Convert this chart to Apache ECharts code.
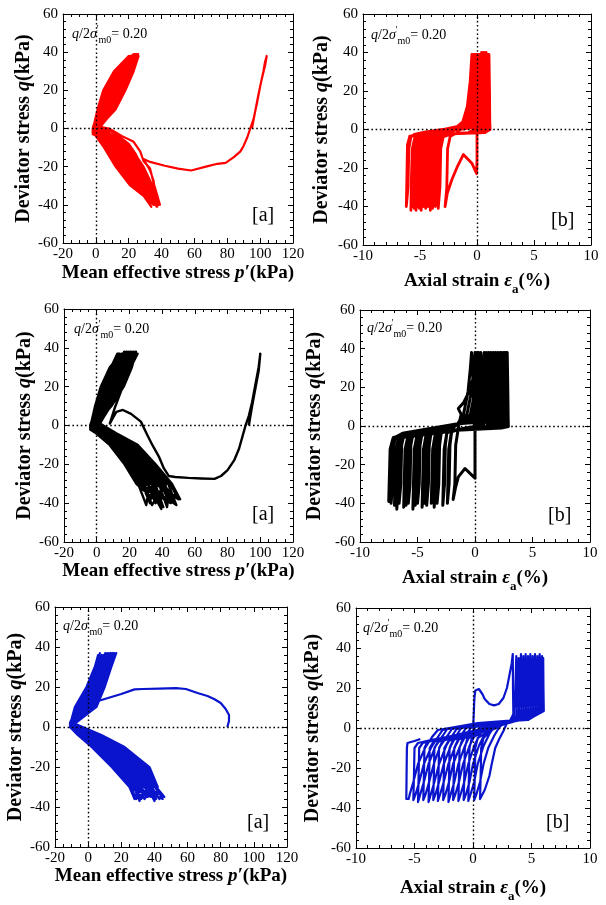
<!DOCTYPE html>
<html><head><meta charset="utf-8">
<script src="https://cdn.jsdelivr.net/npm/echarts@6/dist/echarts.min.js"></script>
<style>html,body{margin:0;padding:0;background:#fff}#c{width:606px;height:905px}</style>
</head><body><div id="c"></div>
<script>
// ---------------- DATA ----------------
// Panel 1: red, p'-q
const redPQInit = [[95,0],[97,9],[99,18],[101,26],[103,33],[104,38],[103,35],[102,30],[100,22],[98,13],[96,5],[94,0],[92,-5],[90,-9],[88,-12],[84,-15],[79,-18],[74,-18.5],[67,-20],[58,-22],[50,-21],[42,-19.5],[33,-17.5],[29,-16],[31,-19],[33,-22],[35,-27],[36,-32],[37,-36],[38,-40]];
const redPQCycles = [
 [[29.2,-30],[22.5,-20],[14.9,-10],[7.2,-4],[1,-1],[10.9,10],[16.7,20],[21.8,30],[25.3,39],[20,30],[14.6,20],[9.3,10],[2,1],[8,0],[16,-4],[23,-7],[27,-12],[29,-17],[33,-21],[35,-28],[37,-34],[39,-40]],
 [[27.8,-30],[20.5,-20],[13.1,-10],[5.9,-4],[0,-2],[4.3,10],[8.6,20],[14.6,30],[20.8,38],[17,30],[11.3,20],[6.5,10],[1,0],[6,0],[14,-4],[20,-8],[24,-13],[27,-18],[30,-22],[32,-28],[34,-34],[38.6,-39]],
 [[22.5,-30],[14,-20],[6.8,-10],[1.3,-4],[-2,-3],[7.6,10],[12.6,20],[18.2,30],[23,39],[12.2,30],[5.9,20],[2.1,10],[-1,0],[7.8,-4],[15.8,-10],[23.4,-20],[30,-30],[35.8,-40]],
 [[25.5,-30],[17.7,-20],[10.4,-10],[3.9,-4],[0,-1],[12,10],[18,20],[23,30],[26,38],[21.2,30],[16,20],[10.4,10],[3,1],[10.4,-4],[19.4,-10],[27.2,-20],[33,-30],[37.4,-41]],
 [[21,-30],[12,-20],[5,-10],[0,-4],[-2,-2],[3.2,10],[7.2,20],[13.4,30],[20,38],[11,30],[4.5,20],[1,10],[-2,-1],[6.5,-4],[14,-10],[21.5,-20],[28.5,-30],[35,-40]],
 [[24,-30],[15.8,-20],[8.6,-10],[2.6,-4],[-1,-1],[8.7,10],[14,20],[19.4,30],[23.8,39],[15.8,30],[9.9,20],[5.4,10],[0,0],[9.1,-4],[17.6,-10],[25.3,-20],[31.5,-30],[36.6,-39]],
 [[27,-30],[19.6,-20],[12.2,-10],[5.2,-4],[0,-2],[5.9,10],[10.6,20],[16.4,30],[21.9,38],[18.8,30],[13.3,20],[8.2,10],[1,0],[11,-4],[20.3,-10],[28.2,-20],[33.8,-30],[37.8,-40]],
 [[21.8,-30],[13,-20],[6,-10],[0.7,-4],[-2,-2],[2.7,10],[6.5,20],[12.8,30],[19.6,37],[11.6,30],[5.2,20],[1.6,10],[-2,0],[4.6,-4],[11.3,-10],[18.6,-20],[26.2,-30],[33.8,-41]],
 [[24.8,-30],[16.8,-20],[9.5,-10],[3.3,-4],[0,-1],[9.8,10],[15.3,20],[20.6,30],[24.5,39],[17.6,30],[12,20],[7,10],[1,1],[8.5,-4],[16.7,-10],[24.3,-20],[30.8,-30],[36.2,-40]],
 [[23.2,-30],[14.8,-20],[7.7,-10],[2,-4],[-1,-2],[4.9,10],[9.2,20],[15.2,30],[21.1,38],[14,30],[7.9,20],[3.8,10],[-1,0],[9.8,-4],[18.5,-10],[26.2,-20],[32.2,-30],[37,-41]],
 [[28.5,-30],[21.5,-20],[14,-10],[6.5,-4],[1,-1],[11.5,10],[17.3,20],[22.4,30],[25.7,39],[19.4,30],[14,20],[8.7,10],[2,0],[11.7,-4],[21.2,-10],[29,-20],[34.5,-30],[38.2,-40]],
 [[26.2,-30],[18.6,-20],[11.3,-10],[4.6,-4],[-1,-1],[7,10],[11.9,20],[17.6,30],[22.6,38],[13.4,30],[7.2,20],[3.2,10],[-2,-1],[3.3,-4],[9.5,-10],[16.8,-20],[24.8,-30],[33,-40]]
];
// Panel 2: red, axial strain - q
const redEInit = [[0,0],[0.02,10],[0.05,25],[0.08,38],[0.05,20],[0.02,5],[0,-5],[0,-15],[-0.03,-23],[-0.45,-17.5],[-1.2,-13],[-1.7,-19],[-2.2,-26],[-2.6,-33],[-2.8,-40]];
const redECycles = [
 [[-2.65,-30],[-2.58,-10],[-2.35,-3.5],[-1.8,-2],[-1.3,1],[-0.7,4],[-0.3,12],[-0.05,25],[0.1,39],[0.2,25],[0.25,8],[0.35,0],[-0.2,-1.6],[-2.2,-2.2],[-2.5,-2.8],[-3.05,-4],[-3.28,-10],[-3.35,-25],[-3.4,-41]],
 [[-3.25,-30],[-3.18,-10],[-2.95,-3.5],[-2.4,-2],[-2.0,-0.5],[-1.7,1],[-1.1,4],[-0.7,12],[-0.45,25],[-0.3,39],[-0.2,25],[-0.15,8],[-0.05,0],[-0.6,-1.6],[-2.2,-2.2],[-2.75,-2.8],[-3.3,-4],[-3.53,-10],[-3.6,-25],[-3.65,-40]],
 [[-3.5,-30],[-3.43,-10],[-3.2,-3.5],[-2.65,-2],[-2.0,-0.5],[-0.9,1],[-0.3,4],[0.1,12],[0.35,25],[0.5,39],[0.6,25],[0.65,8],[0.75,0],[0.2,-1.6],[-2.2,-2.2],[-3.0,-2.8],[-3.55,-4],[-3.78,-10],[-3.85,-25],[-3.9,-41]],
 [[-3.75,-30],[-3.68,-10],[-3.45,-3.5],[-2.9,-2],[-2.0,-0.5],[-1.5,1],[-0.9,4],[-0.5,12],[-0.25,25],[-0.1,39],[0,25],[0.05,8],[0.15,0],[-0.4,-1.6],[-2.2,-2.2],[-3.2,-2.8],[-3.75,-4],[-3.98,-10],[-4.05,-25],[-4.1,-42]],
 [[-3.95,-30],[-3.88,-10],[-3.65,-3.5],[-3.1,-2],[-2.0,-0.5],[-0.6,1],[0,4],[0.4,12],[0.65,25],[0.8,40],[0.9,25],[0.95,8],[1.05,0],[0.5,-1.6],[-2.2,-2.2],[-3.4,-2.8],[-3.95,-4],[-4.18,-10],[-4.25,-25],[-4.3,-40]],
 [[-4.15,-30],[-4.08,-10],[-3.85,-3.5],[-3.3,-2],[-2.0,-0.5],[-1.1,1],[-0.5,4],[-0.1,12],[0.15,25],[0.3,39],[0.4,25],[0.45,8],[0.55,0],[0,-1.6],[-2.2,-2.2],[-3.6,-2.8],[-4.15,-4],[-4.38,-10],[-4.45,-25],[-4.5,-41]],
 [[-4.35,-30],[-4.28,-10],[-4.05,-3.5],[-3.5,-2],[-2.0,-0.5],[-0.4,1],[0.2,4],[0.6,12],[0.85,25],[1.0,39],[1.05,25],[1.1,8],[1.12,0],[0.7,-1.6],[-2.2,-2.2],[-3.8,-2.8],[-4.35,-4],[-4.58,-10],[-4.65,-25],[-4.7,-40]],
 [[-4.55,-30],[-4.48,-10],[-4.25,-3.5],[-3.7,-2],[-2.1,-0.5],[-1.85,1],[-1.25,4],[-0.85,12],[-0.6,25],[-0.45,39],[-0.35,25],[-0.3,8],[-0.2,0],[-0.75,-1.6],[-2.2,-2.2],[-4.0,-2.8],[-4.55,-4],[-4.78,-10],[-4.85,-25],[-4.9,-42]],
 [[-4.75,-30],[-4.68,-10],[-4.45,-3.5],[-3.9,-2],[-2.0,-0.5],[-0.8,1],[-0.2,4],[0.2,12],[0.45,25],[0.6,40],[0.7,25],[0.75,8],[0.85,0],[0.3,-1.6],[-2.2,-2.2],[-4.15,-2.8],[-4.7,-4],[-4.93,-10],[-5.0,-25],[-5.05,-41]],
 [[-4.9,-30],[-4.83,-10],[-4.6,-3.5],[-4.05,-2],[-2.0,-0.5],[-1.2,1],[-0.6,4],[-0.2,12],[0.05,25],[0.2,39],[0.3,25],[0.35,8],[0.45,0],[-0.1,-1.6],[-2.2,-2.2],[-4.3,-2.8],[-4.85,-4],[-5.08,-10],[-5.15,-25],[-5.2,-40]],
 [[-5.05,-30],[-4.98,-10],[-4.75,-3.5],[-4.2,-2],[-2.0,-0.5],[-0.45,1],[0.15,4],[0.55,12],[0.8,25],[0.95,39],[1.05,25],[1.1,8],[1.15,0],[0.65,-1.6],[-2.2,-2.2],[-4.45,-2.8],[-5.0,-4],[-5.23,-10],[-5.3,-25],[-5.35,-42]],
 [[-5.2,-30],[-5.13,-10],[-4.9,-3.5],[-4.35,-2],[-2.0,-0.5],[-1.0,1],[-0.4,4],[0,12],[0.25,25],[0.4,40],[0.5,25],[0.55,8],[0.65,0],[0.1,-1.6],[-2.2,-2.2],[-4.6,-2.8],[-5.15,-4],[-5.38,-10],[-5.45,-25],[-5.5,-41]],
 [[-5.35,-30],[-5.28,-10],[-5.05,-3.5],[-4.5,-2],[-2.0,-0.5],[-1.6,1],[-1.0,4],[-0.6,12],[-0.35,25],[-0.2,39],[-0.1,25],[-0.05,8],[0.05,0],[-0.5,-1.6],[-2.2,-2.2],[-4.75,-2.8],[-5.3,-4],[-5.53,-10],[-5.6,-25],[-5.65,-40]],
 [[-5.5,-30],[-5.43,-10],[-5.2,-3.5],[-4.65,-2],[-2.0,-0.5],[-0.7,1],[-0.1,4],[0.3,12],[0.55,25],[0.7,39],[0.8,25],[0.85,8],[0.95,0],[0.4,-1.6],[-2.2,-2.2],[-4.9,-2.8],[-5.45,-4],[-5.68,-10],[-5.75,-25],[-5.8,-42]],
 [[-5.65,-30],[-5.58,-10],[-5.35,-3.5],[-4.8,-2],[-2.0,-0.5],[-1.4,1],[-0.8,4],[-0.4,12],[-0.15,25],[0,39],[0.1,25],[0.15,8],[0.25,0],[-0.3,-1.6],[-2.2,-2.2],[-5.0,-2.8],[-5.9,-3.5],[-6.1,-8],[-6.15,-25],[-6.2,-40]],
 [[-6.05,-30],[-5.98,-10],[-5.8,-4],[-5.5,-2.5],[-4.5,-1.2],[-3,0],[-1.8,1.5],[-0.5,4],[0.5,12],[0.9,26],[1.05,39],[1.1,20],[1.12,4],[1.1,0]]
];
// Panel 3: black, p'-q
const blackPQInit = [[93,0],[95,10],[97,19],[99,28],[100,37],[99,30],[97,21],[95,12],[93,5],[91,0],[89,-6],[87,-12],[84,-18],[80,-23],[76,-26],[72,-27.5],[64,-27.3],[56,-27],[48,-26.5],[44,-26],[41,-22],[38,-16],[34,-10],[31,-5],[27,2],[21,6],[16,8],[12,7],[10,4],[8,1],[11,9],[15,18],[19,26],[22,32],[25,37]];
const blackPQCycles = [
 [[20.2,30],[15.1,20],[8,10],[2,1],[12,-4],[25,-10],[36,-20],[46,-30],[51,-38],[36.8,-30],[28,-20],[17.8,-10],[6.8,-4],[-2,0],[4,10],[9.5,20],[14.8,30],[18,38]],
 [[14,30],[8.8,20],[3.5,10],[-3,-1],[8.1,-4],[19.6,-10],[30,-20],[39.1,-30],[44.1,-39],[26.5,-30],[19,-20],[9.7,-10],[1,-4],[-4,-1],[-0.5,10],[3.2,20],[8.7,30],[12.6,37]],
 [[9.4,30],[3.9,20],[0,10],[-4,0],[3.6,-4],[13.3,-10],[23,-20],[31,-30],[36,-40],[42.6,-30],[33,-20],[22.3,-10],[10,-4],[1,0],[6.5,10],[13,20],[18.1,30],[21,38]],
 [[16.8,30],[11.6,20],[5.5,10],[0,-1],[10.7,-4],[23.2,-10],[34,-20],[43.7,-30],[48.7,-41],[29.9,-30],[22,-20],[12.4,-10],[2.9,-4],[-3,-1],[1.5,10],[6,20],[11.4,30],[15,37]],
 [[8,30],[2.5,20],[-1,10],[-4,-1],[1.6,-4],[10.6,-10],[20,-20],[27.6,-30],[32.6,-40],[34.5,-30],[26,-20],[16,-10],[5.5,-4],[-1,0],[8.5,10],[15.8,20],[20.8,30],[23.4,38]],
 [[18.8,30],[13.7,20],[7,10],[1,0],[6.2,-4],[16.9,-10],[27,-20],[35.7,-30],[40.7,-42],[24.2,-30],[17,-20],[7.9,-10],[-0.4,-4],[-4,-2],[3,10],[8.1,20],[13.4,30],[16.8,38]],
 [[12,30],[6.7,20],[2,10],[-3,0],[9.4,-4],[21.4,-10],[32,-20],[41.4,-30],[46.4,-39],[39.1,-30],[30,-20],[19.6,-10],[8.1,-4],[0,-1],[0.5,10],[4.6,20],[10,30],[13.8,37]],
 [[15.4,30],[10.2,20],[4.5,10],[-1,1],[0.3,-4],[8.8,-10],[18,-20],[25.3,-30],[30.3,-41],[32.2,-30],[24,-20],[14.2,-10],[4.2,-4],[-2,-1],[7.5,10],[14.4,20],[19.5,30],[22.2,38]],
 [[10.7,30],[5.3,20],[1,10],[-4,0],[7.5,-4],[18.7,-10],[29,-20],[38,-30],[43,-42],[44.9,-30],[35,-20],[24.1,-10],[11.4,-4],[1,-1],[5,10],[10.9,20],[16.1,30],[19.2,38]],
 [[18.1,30],[13,20],[6.5,10],[0,0],[4.9,-4],[15.1,-10],[25,-20],[33.4,-30],[38.4,-39],[27.6,-30],[20,-20],[10.6,-10],[1.6,-4],[-3,-1],[2,10],[6.7,20],[12,30],[15.6,37]],
 [[13.4,30],[8.1,20],[3,10],[-2,0],[11.4,-4],[24.1,-10],[35,-20],[44.9,-30],[49.9,-38],[35.7,-30],[27,-20],[16.9,-10],[6.2,-4],[-1,0],[9,10],[16.5,20],[21.5,30],[24,38]],
 [[8.7,30],[3.2,20],[-0.5,10],[-4,-1],[2.3,-4],[11.5,-10],[21,-20],[28.8,-30],[33.8,-41],[41.4,-30],[32,-20],[21.4,-10],[9.4,-4],[0,0],[6,10],[12.3,20],[17.5,30],[20.4,38]],
 [[16.1,30],[10.9,20],[5,10],[-1,0],[8.8,-4],[20.5,-10],[31,-20],[40.3,-30],[45.3,-40],[25.3,-30],[18,-20],[8.8,-10],[0.3,-4],[-4,-1],[0,10],[3.9,20],[9.4,30],[13.2,37]],
 [[20.8,30],[15.8,20],[8.5,10],[1,0],[5.5,-4],[16,-10],[26,-20],[34.5,-30],[39.5,-43],[31,-30],[23,-20],[13.3,-10],[3.6,-4],[-3,-1],[3.5,10],[8.8,20],[14,30],[17.4,37]]
];
// Panel 4: black, axial strain - q
const blackEInit = [[0,0],[0.02,12],[0.04,25],[0.05,37],[0.03,20],[0,5],[0,-10],[0,-20],[0,-27],[-0.43,-24.5],[-0.87,-22],[-1.45,-26.3],[-1.7,-32],[-1.9,-38]];
const blackECycles = [
 [[-1.75,-30],[-1.68,-10],[-1.5,-3],[-1.4,1],[-1.2,6],[-1.45,9],[-1.0,12],[-0.5,18],[0,28],[0.2,38],[0.35,20],[0.4,5],[0.45,-0.3],[-0.3,-1],[-1.5,-2],[-2.05,-3],[-2.28,-12],[-2.4,-40]],
 [[-2.25,-30],[-2.18,-10],[-2.0,-1.5],[-1.5,1.2],[-1.0,6],[-0.6,18],[-0.4,30],[-0.3,38],[-0.15,20],[-0.1,5],[-0.05,-0.3],[-0.8,-1],[-1.8,-2.2],[-2.45,-3.5],[-2.68,-12],[-2.8,-41]],
 [[-2.65,-30],[-2.58,-10],[-2.4,-1.5],[-1.8,0.5],[-1.5,1.2],[-0.2,2.5],[0.3,6],[0.7,18],[0.9,30],[1.0,38],[1.15,20],[1.2,5],[1.25,-0.3],[0.5,-1],[-2,-2.3],[-2.3,-2.5],[-2.95,-3.7],[-3.18,-12],[-3.3,-40]],
 [[-3.15,-30],[-3.08,-10],[-2.9,-2],[-2.3,0],[-1.5,1.2],[-0.7,2.5],[-0.2,6],[0.2,18],[0.4,30],[0.5,38],[0.65,20],[0.7,5],[0.75,-0.3],[0,-1],[-2,-2.3],[-2.55,-2.6],[-3.2,-3.9],[-3.43,-12],[-3.55,-42]],
 [[-3.4,-30],[-3.33,-10],[-3.15,-2.3],[-2.55,-0.2],[-1.5,1.2],[0.6,2.5],[1.1,6],[1.5,18],[1.7,30],[1.8,38],[1.95,20],[2.0,5],[2.05,-0.3],[1.3,-1],[-2,-2.3],[-2.8,-2.7],[-3.45,-4],[-3.68,-12],[-3.8,-40]],
 [[-3.65,-30],[-3.58,-10],[-3.4,-2.6],[-2.8,-0.4],[-1.5,1.2],[1.1,2.5],[1.6,6],[2.0,18],[2.2,30],[2.3,38],[2.45,20],[2.5,5],[2.55,-0.3],[1.8,-1],[-2,-2.3],[-3.2,-3],[-3.85,-4.3],[-4.08,-12],[-4.2,-41]],
 [[-4.05,-30],[-3.98,-10],[-3.8,-2.9],[-3.2,-0.7],[-1.5,1.2],[-1.2,2.5],[-0.7,6],[-0.3,18],[-0.1,30],[0,38],[0.15,20],[0.2,5],[0.25,-0.3],[-0.5,-1],[-2,-2.3],[-3.4,-3],[-4.05,-4.5],[-4.28,-12],[-4.4,-40]],
 [[-4.25,-30],[-4.18,-10],[-4.0,-3.1],[-3.4,-0.9],[-1.5,1.2],[0.4,2.5],[0.9,6],[1.3,18],[1.5,30],[1.6,38],[1.75,20],[1.8,5],[1.85,-0.3],[1.1,-1],[-2,-2.3],[-3.6,-3.2],[-4.25,-4.6],[-4.48,-12],[-4.6,-42]],
 [[-4.45,-30],[-4.38,-10],[-4.2,-3.3],[-3.6,-1.1],[-1.5,1.2],[0.2,2.5],[0.7,6],[1.1,18],[1.3,30],[1.4,38],[1.55,20],[1.6,5],[1.65,-0.3],[0.9,-1],[-2,-2.3],[-4.0,-3.5],[-4.65,-4.9],[-4.88,-12],[-5.0,-40]],
 [[-4.85,-30],[-4.78,-10],[-4.6,-3.6],[-4.0,-1.5],[-1.5,1.2],[1.6,2.5],[2.1,6],[2.5,18],[2.7,30],[2.8,38],[2.85,20],[2.88,5],[2.9,-0.3],[2.3,-1],[-2,-2.3],[-4.2,-3.6],[-4.85,-5],[-5.08,-12],[-5.2,-41]],
 [[-5.05,-30],[-4.98,-10],[-4.8,-3.8],[-4.2,-1.7],[-1.5,1.2],[-0.9,2.5],[-0.4,6],[0,18],[0.2,30],[0.3,38],[0.45,20],[0.5,5],[0.55,-0.3],[-0.2,-1],[-2,-2.3],[-4.4,-3.7],[-5.05,-5.2],[-5.28,-12],[-5.4,-43]],
 [[-5.25,-30],[-5.18,-10],[-5.0,-4],[-4.4,-1.9],[-1.5,1.2],[1.3,2.5],[1.8,6],[2.2,18],[2.4,30],[2.5,38],[2.65,20],[2.7,5],[2.75,-0.3],[2.0,-1],[-2,-2.3],[-4.8,-4],[-5.45,-5.6],[-5.68,-12],[-5.8,-40]],
 [[-5.65,-30],[-5.58,-10],[-5.4,-4.3],[-4.8,-2.3],[-1.5,1.2],[-0.4,2.5],[0.1,6],[0.5,18],[0.7,30],[0.8,38],[0.95,20],[1.0,5],[1.05,-0.3],[0.3,-1],[-2,-2.3],[-5.0,-4.2],[-5.65,-5.7],[-5.88,-12],[-6.0,-41]],
 [[-5.85,-30],[-5.78,-10],[-5.6,-4.5],[-5.0,-2.5],[-1.5,1.2],[0.8,2.5],[1.3,6],[1.7,18],[1.9,30],[2.0,38],[2.15,20],[2.2,5],[2.25,-0.3],[1.5,-1],[-2,-2.3],[-5.2,-4.4],[-5.85,-5.8],[-6.08,-12],[-6.2,-42]],
 [[-6.05,-30],[-5.98,-10],[-5.8,-4.7],[-5.2,-2.7],[-1.5,1.2],[-0.2,2.5],[0.3,6],[0.7,18],[0.9,30],[1.0,38],[1.15,20],[1.2,5],[1.25,-0.3],[0.5,-1],[-2,-2.3],[-5.6,-4.7],[-6.25,-6.1],[-6.48,-12],[-6.6,-40]],
 [[-6.45,-30],[-6.38,-10],[-6.2,-5],[-5.6,-3.1],[-1.5,1.2],[1.4,2.5],[1.9,6],[2.3,18],[2.5,30],[2.6,38],[2.75,20],[2.8,5],[2.85,-0.3],[2.1,-1],[-2,-2.3],[-5.8,-4.8],[-6.45,-6.3],[-6.68,-12],[-6.8,-43]],
 [[-6.65,-30],[-6.58,-10],[-6.4,-5.2],[-5.8,-3.3],[-1.5,1.2],[1.0,2.5],[1.5,6],[1.9,18],[2.1,30],[2.2,38],[2.35,20],[2.4,5],[2.45,-0.3],[1.7,-1],[-2,-2.3],[-6.0,-5],[-6.65,-6.4],[-6.88,-12],[-7.0,-41]],
 [[-6.85,-30],[-6.78,-10],[-6.6,-5.4],[-6.0,-3.5],[-1.5,1.2],[0,2.5],[0.5,6],[0.9,18],[1.1,30],[1.2,38],[1.35,20],[1.4,5],[1.45,-0.3],[0.7,-1],[-2,-2.3],[-6.3,-5.3],[-6.95,-6.6],[-7.18,-12],[-7.3,-40]],
 [[-7.15,-30],[-7.08,-10],[-6.9,-5.7],[-6.3,-3.8],[-1.5,1.2],[1.6,2.5],[2.1,6],[2.5,18],[2.7,30],[2.75,38],[2.85,20],[2.88,5],[2.9,-0.3],[2.3,-1],[-2,-2.3],[-6.5,-5.4],[-7.15,-6.8],[-7.38,-12],[-7.5,-39]],
 [[-7.35,-30],[-7.28,-10],[-7.1,-5.9],[-6.5,-5]]
];
// Panel 5: blue, p'-q
const bluePQInit = [[84,0],[85,3],[85,6],[83,9],[80,12],[76,14],[72,15.5],[66,17],[59,19],[53,19.4],[43,19.2],[33,19],[28,18.8],[20,16.5],[12,14.5],[6,13],[8,20],[11,27],[13,32],[15,37]];
const bluePQCycles = [
 [[13,30],[8.9,20],[3.7,10],[-10,1],[7.3,-4],[21,-10],[35.8,-20],[41.1,-30],[46,-35],[34.8,-30],[27.4,-20],[13.6,-10],[2,-4],[-11,1],[-1.5,10],[4.5,20],[9,30],[11.5,37]],
 [[8,30],[3.4,20],[-2.8,10],[-11,0],[3.5,-4],[15.7,-10],[29.8,-20],[36.6,-30],[41,-36],[26.7,-30],[16.6,-20],[4.2,-10],[-4.8,-4],[-11,1],[-6.7,10],[0.1,20],[5,30],[7.1,37]],
 [[5,30],[0.1,20],[-6.7,10],[-11,2],[-1.8,-4],[8.4,-10],[21.4,-20],[30.3,-30],[34,-36],[39.3,-30],[33.4,-20],[18.9,-10],[5.8,-4],[-10,1],[2.4,10],[7.8,20],[12,30],[14.8,37]],
 [[11,30],[6.7,20],[1.1,10],[-10,0],[6.5,-4],[19.9,-10],[34.6,-20],[40.2,-30],[45,-36],[29.4,-30],[20.2,-20],[7.3,-10],[-2.5,-4],[-11,1],[-4.1,10],[2.3,20],[7,30],[9.3,36]],
 [[4,30],[-1,20],[-8,10],[-11,1],[-4,-4],[5.2,-10],[17.8,-20],[27.6,-30],[31,-37],[33,-30],[25,-20],[11.5,-10],[0.5,-4],[-10,2],[5,10],[10,20],[14,30],[17,37]],
 [[12,30],[7.8,20],[2.4,10],[-9,1],[1.3,-4],[12.6,-10],[26.2,-20],[33.9,-30],[38,-35],[24.9,-30],[14.2,-20],[2.1,-10],[-6.3,-4],[-11,0],[-2.8,10],[3.4,20],[8,30],[10.4,37]],
 [[7,30],[2.3,20],[-4.1,10],[-11,1],[5,-4],[17.8,-10],[32.2,-20],[38.4,-30],[43,-36],[36.6,-30],[29.8,-20],[15.7,-10],[3.5,-4],[-10,1],[-5.4,10],[1.2,20],[6,30],[8.2,36]],
 [[10,30],[5.6,20],[-0.2,10],[-10,2],[-5.5,-4],[3.1,-10],[15.4,-20],[25.8,-30],[29,-36],[31.2,-30],[22.6,-20],[9.4,-10],[-1,-4],[-11,1],[3.7,10],[8.9,20],[13,30],[15.9,37]],
 [[6,30],[1.2,20],[-5.4,10],[-11,0],[2.8,-4],[14.7,-10],[28.6,-20],[35.7,-30],[40,-37],[42,-30],[37,-20],[22,-10],[8,-4],[-9,2],[-0.2,10],[5.6,20],[10,30],[12.6,37]],
 [[9,30],[4.5,20],[-1.5,10],[-10,1],[-0.3,-4],[10.5,-10],[23.8,-20],[32.1,-30],[36,-35],[27.6,-30],[17.8,-20],[5.2,-10],[-4,-4],[-11,1],[1.1,10],[6.7,20],[11,30],[13.7,37]],
 [[14,30],[10,20],[5,10],[-9,1],[-3.3,-4],[6.3,-10],[19,-20],[28.5,-30],[32,-36],[37.5,-30],[31,-20],[16.8,-10],[4.3,-4],[-10,1],[-8,10],[-1,20],[4,30],[6,36]],
 [[8.5,30],[4,20],[-2.2,10],[-11,1],[-6.3,-4],[2.1,-10],[14.2,-20],[24.9,-30],[28,-36],[30.3,-30],[21.4,-20],[8.4,-10],[-1.8,-4],[-11,1],[-0.9,10],[5,20],[9.5,30],[12,37]]
];
// Panel 6: blue, axial strain - q
const blueEInit = [[0,0],[0.05,5],[0.12,15],[0.2,18.8],[0.5,19.5],[0.8,17],[1.0,14.5],[1.4,12],[1.8,11.3],[2.2,12],[2.6,15],[2.9,20],[3.1,26],[3.3,32],[3.4,37]];
const blueECycles = [
 [[3.42,20],[3.45,7],[3.2,4],[2.9,2.5],[2.6,-1.5],[2.2,-6],[1.9,-10],[1.6,-18],[1.4,-24],[1.0,-31],[0.6,-35.5],[0.65,-25],[0.7,-10],[0.9,-5],[1.6,-1],[2.5,1.5],[3.2,3],[3.5,6],[3.6,15],[3.7,36]],
 [[3.72,20],[3.75,6],[3.4,3.5],[2.6,2.5],[2.2,0],[1.8,-4],[1.3,-10],[0.9,-18],[0.6,-27],[0.3,-33],[0.1,-36],[0.15,-25],[0.2,-10],[0.4,-5],[1.2,-2],[2.2,1],[3.2,3],[3.7,6],[3.8,15],[3.9,35]],
 [[3.92,20],[3.95,6],[3.5,3.5],[2.5,2.5],[1.8,0.5],[1.4,-3],[0.9,-9],[0.4,-18],[0.1,-27],[-0.2,-33],[-0.4,-36.5],[-0.35,-25],[-0.3,-10],[-0.1,-5],[0.8,-2],[2,1],[3.3,3],[3.9,6],[4.0,15],[4.1,37]],
 [[4.12,20],[4.15,6],[3.6,3.5],[2.4,2.5],[1.4,0.5],[1.0,-3],[0.5,-9],[0,-18],[-0.3,-27],[-0.6,-33],[-0.8,-36],[-0.75,-25],[-0.7,-10],[-0.5,-5.5],[0.4,-2.5],[1.8,0.5],[3.4,3],[4.1,6],[4.2,15],[4.3,36]],
 [[4.32,20],[4.35,6],[3.8,3.5],[2.4,2.5],[1.0,0.5],[0.6,-3],[0.1,-9],[-0.4,-18],[-0.75,-27],[-1.05,-33],[-1.25,-36.5],[-1.2,-25],[-1.15,-10],[-0.9,-5.5],[0,-3],[1.5,0.5],[3.4,3],[4.3,6.5],[4.4,15],[4.5,37]],
 [[4.52,20],[4.55,6.5],[3.9,4],[2.2,2.5],[0.6,0.5],[0.2,-3],[-0.3,-9],[-0.85,-18],[-1.2,-27],[-1.5,-33],[-1.7,-36],[-1.65,-25],[-1.6,-10],[-1.3,-6],[-0.4,-3.5],[1.2,0],[3.4,3],[4.5,6.5],[4.6,15],[4.7,36]],
 [[4.72,20],[4.75,6.5],[4.0,4],[2.0,2.5],[0.2,0.5],[-0.2,-3],[-0.7,-9],[-1.25,-18],[-1.6,-27],[-1.9,-33],[-2.1,-37],[-2.05,-25],[-2.0,-10],[-1.7,-6],[-0.8,-4],[1,-0.5],[3.3,3],[4.7,7],[4.8,15],[4.9,37]],
 [[4.92,20],[4.95,7],[4.1,4],[1.8,2.5],[-0.2,0],[-0.6,-3.5],[-1.1,-9],[-1.7,-18],[-2.05,-27],[-2.35,-33],[-2.55,-36],[-2.5,-25],[-2.45,-10],[-2.1,-6.5],[-1.2,-4.5],[0.8,-1],[3.3,3],[4.9,7],[5.0,15],[5.1,36]],
 [[5.12,20],[5.15,7],[4.2,4],[1.6,2.5],[-0.6,0],[-1.0,-3.5],[-1.5,-9],[-2.1,-18],[-2.5,-27],[-2.8,-33],[-3.0,-36.5],[-2.95,-25],[-2.9,-10],[-2.6,-6.5],[-1.6,-4.5],[0.5,-1.5],[3.3,3],[5.1,7.5],[5.2,15],[5.3,37]],
 [[5.32,20],[5.35,7.5],[4.3,4],[1.4,2.5],[-1.0,0],[-1.4,-3.5],[-1.9,-9],[-2.5,-18],[-2.9,-27],[-3.2,-33],[-3.4,-36],[-3.35,-25],[-3.3,-10],[-3.0,-7],[-2.0,-5],[0.2,-2],[3.3,3],[5.3,7.5],[5.4,15],[5.5,36]],
 [[5.52,20],[5.55,7.5],[4.4,4],[1.2,2.5],[-1.4,-0.5],[-1.8,-4],[-2.3,-9],[-2.9,-18],[-3.3,-27],[-3.6,-33],[-3.8,-37],[-3.75,-25],[-3.7,-10],[-3.4,-7],[-2.4,-5],[0,-2],[3.3,3],[5.5,8],[5.6,15],[5.7,37]],
 [[5.72,20],[5.75,8],[4.5,4],[1.0,2.5],[-1.8,-0.5],[-2.2,-4],[-2.8,-9],[-3.35,-18],[-3.75,-27],[-4.05,-33],[-4.25,-36],[-4.2,-25],[-4.15,-10],[-3.9,-7],[-2.8,-5.5],[-0.4,-2.5],[3.3,3],[5.6,8],[5.7,15],[5.8,35]],
 [[5.82,20],[5.85,8],[4.6,4],[0.8,2.5],[-2.2,-0.5],[-2.6,-4],[-3.2,-9],[-3.8,-18],[-4.2,-27],[-4.5,-33],[-4.7,-37],[-4.65,-25],[-4.6,-10],[-4.3,-7.5],[-3.2,-6],[-0.8,-2.5],[3.3,3],[5.7,8.5],[5.8,15],[5.9,36]],
 [[5.92,20],[5.95,8.5],[4.7,4],[0.6,2.5],[-2.6,-1],[-3.0,-4.5],[-3.6,-10],[-4.2,-18],[-4.6,-27],[-4.9,-33],[-5.1,-36],[-5.05,-25],[-5.0,-10],[-4.7,-7.5],[-3.6,-6],[-1,-3],[3.3,3],[5.8,8.5],[5.9,15],[6.0,35]],
 [[6.02,20],[6.05,8.5],[4.8,4.5],[0.4,2.5],[-3.0,-1],[-3.5,-4.5],[-4.1,-10],[-4.7,-18],[-5.1,-27],[-5.4,-33],[-5.5,-35.5],[-5.7,-35.5],[-5.68,-25],[-5.65,-10],[-5.6,-7.5],[-5.0,-6.5],[-4.5,-5.5]]
];

// ---------------- CHART ----------------
const FONT = "'Liberation Serif','Times New Roman',serif";
const FF = '"Liberation Serif"';
const nameP = "Mean effective stress {i|p′}(kPa)";
const nameE = "Axial strain {e|ε}{s|a}(%)";
const nameQ = "Deviator stress {i|q}(kPa)";

const panels = [
 {grid:{left:63,top:14,width:230,height:229}, kind:'p', color:'#ff0000', lw:2.2, init:redPQInit, cycles:redPQCycles, yGap:28, xGap:21, tag:'[a]', tagXY:[252,206], annXY:[72,24]},
 {grid:{left:363,top:14,width:228,height:231}, kind:'e', color:'#ff0000', lw:2.8, init:redEInit, cycles:redECycles, yGap:31, xGap:21, tag:'[b]', tagXY:[551,211], annXY:[371,25]},
 {grid:{left:64,top:309,width:229,height:233}, kind:'p', color:'#000000', lw:2.4, init:blackPQInit, cycles:blackPQCycles, yGap:29, xGap:20, tag:'[a]', tagXY:[252,505], annXY:[74,319]},
 {grid:{left:360,top:310,width:230,height:232}, kind:'e', color:'#000000', lw:3.0, init:blackEInit, cycles:blackECycles, yGap:35, xGap:21, tag:'[b]', tagXY:[548,506], annXY:[367,318]},
 {grid:{left:55,top:607,width:232,height:240}, kind:'p', color:'#0a14cc', lw:2.2, init:bluePQInit, cycles:bluePQCycles, yGap:28, xGap:19, tag:'[a]', tagXY:[247,813], annXY:[63,616]},
 {grid:{left:356,top:608,width:234,height:240}, kind:'e', color:'#0a14cc', lw:2.2, init:blueEInit, cycles:blueECycles, yGap:33, xGap:25, tag:'[b]', tagXY:[546,813], annXY:[363,618]}
];

const grids = [], xAxes = [], yAxes = [], series = [], graphics = [];
const lineC = {color:'#000', width:1};
panels.forEach((P, i) => {
  grids.push(Object.assign({containLabel:false, show:false}, P.grid));
  const isP = P.kind === 'p';
  const xr = isP ? {min:-20, max:120, interval:20, minor:4} : {min:-10, max:10, interval:5, minor:5};
  const baseX = {type:'value', gridIndex:i, min:xr.min, max:xr.max, interval:xr.interval,
    axisLine:{show:true, onZero:false, lineStyle:lineC},
    axisTick:{show:true, inside:true, length:5, lineStyle:lineC},
    minorTick:{show:true, splitNumber:xr.minor, length:3, lineStyle:lineC},
    splitLine:{show:false}, minorSplitLine:{show:false}};
  xAxes.push(Object.assign({}, baseX, {position:'bottom',
    axisLabel:{show:true, margin:4, color:'#000', fontSize:15, fontFamily:FONT},
    name: isP ? nameP : nameE, nameLocation:'middle', nameGap:P.xGap,
    nameTextStyle:{color:'#000', fontSize:19, fontWeight:'bold', fontFamily:FONT,
      rich:{i:{fontStyle:'italic', fontWeight:'bold', fontSize:19, fontFamily:FONT, color:'#000'},
            e:{fontStyle:'italic', fontWeight:'bold', fontSize:19, fontFamily:FONT, color:'#000'},
            s:{fontWeight:'bold', fontSize:13, fontFamily:FONT, color:'#000', padding:[17,0,0,0], verticalAlign:'bottom'}}}}));
  xAxes.push(Object.assign({}, baseX, {position:'top', axisLabel:{show:false}}));
  const baseY = {type:'value', gridIndex:i, min:-60, max:60, interval:20,
    axisLine:{show:true, onZero:false, lineStyle:lineC},
    axisTick:{show:true, inside:true, length:5, lineStyle:lineC},
    minorTick:{show:true, splitNumber:5, length:3, lineStyle:lineC},
    splitLine:{show:false}, minorSplitLine:{show:false}};
  yAxes.push(Object.assign({}, baseY, {position:'left',
    axisLabel:{show:true, margin:5, color:'#000', fontSize:15, fontFamily:FONT},
    name: nameQ, nameLocation:'middle', nameGap:P.yGap, nameRotate:90,
    nameTextStyle:{color:'#000', fontSize:20, fontWeight:'bold', fontFamily:FONT,
      rich:{i:{fontStyle:'italic', fontWeight:'bold', fontSize:20, fontFamily:FONT, color:'#000'}}}}));
  yAxes.push(Object.assign({}, baseY, {position:'right', axisLabel:{show:false}}));

  series.push({type:'line', xAxisIndex:2*i, yAxisIndex:2*i, data:[[0,0]], showSymbol:false, symbol:'none',
    lineStyle:{opacity:0}, silent:true, z:1,
    markLine:{silent:true, symbol:['none','none'], animation:false, label:{show:false},
      lineStyle:{color:'#000', type:[1.6,2.6], width:1.4}, data:[{xAxis:0},{yAxis:0}]}});
  const path = P.init.concat(...P.cycles);
  series.push({type:'line', xAxisIndex:2*i, yAxisIndex:2*i, data:path, showSymbol:false, symbol:'none',
    smooth:false, z:3, lineStyle:{color:P.color, width:P.lw, join:'round'}, itemStyle:{color:P.color}});

  graphics.push({type:'text', x:P.annXY[0], y:P.annXY[1], z:10, style:{
    text:"{i|q}{n|/2}{i|σ}{p|'}{s|m0}{n|= 0.20}", fill:'#000', font:'14px '+FF, verticalAlign:'top',
    rich:{i:{font:'italic 14px '+FF}, n:{font:'14px '+FF},
          p:{font:'10px '+FF, verticalAlign:'top'},
          s:{font:'10px '+FF, padding:[11,0,0,0], verticalAlign:'bottom'}}}});
  graphics.push({type:'text', x:P.tagXY[0], y:P.tagXY[1], z:10, style:{text:P.tag, fill:'#000', font:'20px '+FF, verticalAlign:'top'}});
});

const chart = echarts.init(document.getElementById('c'), null, {renderer:'canvas', width:606, height:905});
chart.setOption({animation:false, backgroundColor:'#fff', textStyle:{fontFamily:FONT},
  grid:grids, xAxis:xAxes, yAxis:yAxes, series:series, graphic:graphics});
</script>
</body></html>
